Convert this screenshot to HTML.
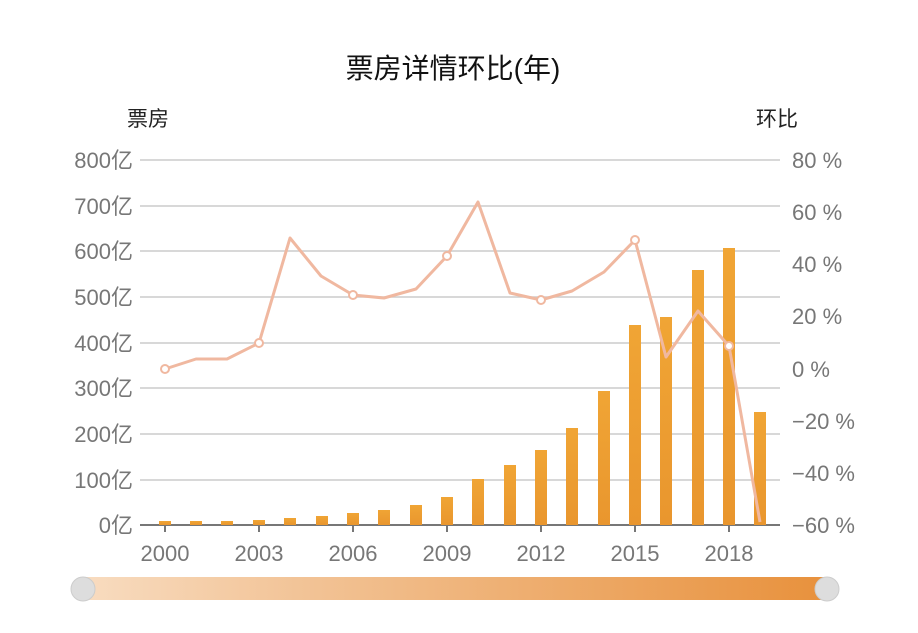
<!DOCTYPE html>
<html><head><meta charset="utf-8"><style>
body{margin:0;background:#fff;}
svg text{font-family:"Liberation Sans","Noto Sans CJK SC",sans-serif;}
</style></head><body>
<svg width="918" height="628" xmlns="http://www.w3.org/2000/svg">
<defs>
<linearGradient id="g" x1="0" x2="1" y1="0" y2="0">
<stop offset="0" stop-color="#f8dcc0"/><stop offset="0.3" stop-color="#f2c396"/><stop offset="1" stop-color="#e8913c"/>
</linearGradient>
<linearGradient id="b" x1="0" x2="0" y1="0" y2="1">
<stop offset="0" stop-color="#f0a535"/><stop offset="1" stop-color="#e9962e"/>
</linearGradient>
</defs>
<text x="453" y="78" font-size="28" text-anchor="middle" fill="#111">票房详情环比(年)</text>
<text x="148" y="126" font-size="21" text-anchor="middle" fill="#222">票房</text>
<text x="777" y="126" font-size="21" text-anchor="middle" fill="#222">环比</text>
<g stroke="#ccc" stroke-width="1.5">
<line x1="140" x2="780" y1="160" y2="160"/><line x1="140" x2="780" y1="206" y2="206"/>
<line x1="140" x2="780" y1="251" y2="251"/><line x1="140" x2="780" y1="297" y2="297"/>
<line x1="140" x2="780" y1="343" y2="343"/><line x1="140" x2="780" y1="388" y2="388"/>
<line x1="140" x2="780" y1="434" y2="434"/><line x1="140" x2="780" y1="480" y2="480"/>
</g>
<line x1="140" x2="780" y1="525" y2="525" stroke="#777" stroke-width="2"/>
<g font-size="22" fill="#777" text-anchor="end">
<text x="133" y="168">800亿</text><text x="133" y="214">700亿</text><text x="133" y="259">600亿</text>
<text x="133" y="305">500亿</text><text x="133" y="351">400亿</text><text x="133" y="396">300亿</text>
<text x="133" y="442">200亿</text><text x="133" y="488">100亿</text><text x="133" y="533">0亿</text>
</g>
<g font-size="22" fill="#777">
<text x="792" y="168">80 %</text><text x="792" y="220">60 %</text><text x="792" y="272">40 %</text>
<text x="792" y="324">20 %</text><text x="792" y="377">0 %</text><text x="792" y="429">−20 %</text>
<text x="792" y="481">−40 %</text><text x="792" y="533">−60 %</text>
</g>
<g stroke="#777" stroke-width="2">
<line x1="165" x2="165" y1="525" y2="532"/><line x1="259" x2="259" y1="525" y2="532"/>
<line x1="353" x2="353" y1="525" y2="532"/><line x1="447" x2="447" y1="525" y2="532"/>
<line x1="541" x2="541" y1="525" y2="532"/><line x1="635" x2="635" y1="525" y2="532"/>
<line x1="729" x2="729" y1="525" y2="532"/>
</g>
<g font-size="22" fill="#777" text-anchor="middle">
<text x="165" y="561">2000</text><text x="259" y="561">2003</text><text x="353" y="561">2006</text>
<text x="447" y="561">2009</text><text x="541" y="561">2012</text><text x="635" y="561">2015</text>
<text x="729" y="561">2018</text>
</g>
<g fill="url(#b)">
<rect x="159" y="521" width="12" height="4"/><rect x="190" y="521" width="12" height="4"/>
<rect x="221" y="521" width="12" height="4"/><rect x="253" y="520" width="12" height="5"/>
<rect x="284" y="518" width="12" height="7"/><rect x="316" y="516" width="12" height="9"/>
<rect x="347" y="513" width="12" height="12"/><rect x="378" y="510" width="12" height="15"/>
<rect x="410" y="505" width="12" height="20"/><rect x="441" y="497" width="12" height="28"/>
<rect x="472" y="479" width="12" height="46"/><rect x="504" y="465" width="12" height="60"/>
<rect x="535" y="450" width="12" height="75"/><rect x="566" y="428" width="12" height="97"/>
<rect x="598" y="391" width="12" height="134"/><rect x="629" y="325" width="12" height="200"/>
<rect x="660" y="317" width="12" height="208"/><rect x="692" y="270" width="12" height="255"/>
<rect x="723" y="248" width="12" height="277"/><rect x="754" y="412" width="12" height="113"/>
</g>
<polyline fill="none" stroke="#f0b8a0" stroke-width="3" stroke-linejoin="round" points="165,369 196,359 227,359 259,343 290,238 321,276 353,295 384,298 416,289 447,256 478,202 510,293 541,300 572,291 604,272 635,240 666,357 698,311 729,346 760,522"/>
<g fill="#fff" stroke="#f0b8a0" stroke-width="2">
<circle cx="165" cy="369" r="4"/><circle cx="259" cy="343" r="4"/><circle cx="353" cy="295" r="4"/>
<circle cx="447" cy="256" r="4"/><circle cx="541" cy="300" r="4"/><circle cx="635" cy="240" r="4"/>
<circle cx="729" cy="346" r="4"/>
</g>
<rect x="83" y="577" width="744" height="23" fill="url(#g)"/>
<ellipse cx="83" cy="589" rx="12" ry="12" fill="#ddd" stroke="#ccc"/>
<ellipse cx="827" cy="589" rx="12" ry="12" fill="#ddd" stroke="#ccc"/>
</svg>
</body></html>
